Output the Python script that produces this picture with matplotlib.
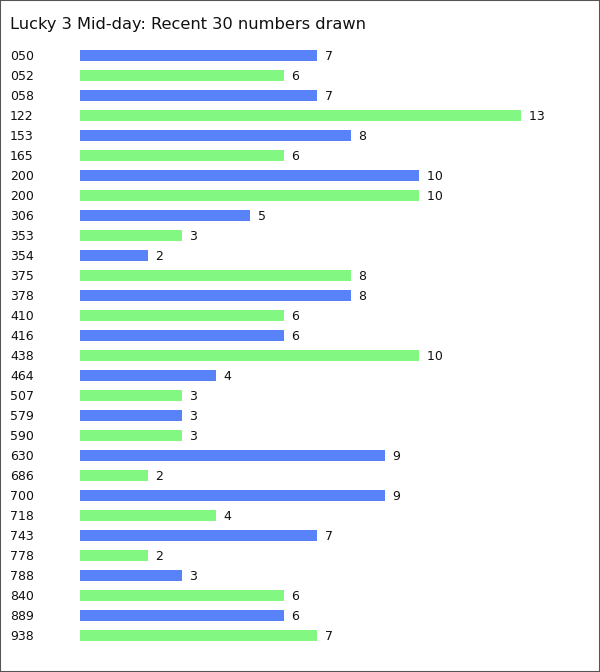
import matplotlib
matplotlib.use("Agg")
import matplotlib.pyplot as plt
from matplotlib.patches import Rectangle
from matplotlib.transforms import blended_transform_factory

numbers = ["050", "052", "058", "122", "153", "165", "200", "200", "306", "353",
           "354", "375", "378", "410", "416", "438", "464", "507", "579", "590",
           "630", "686", "700", "718", "743", "778", "788", "840", "889", "938"]
counts = [7, 6, 7, 13, 8, 6, 10, 10, 5, 3,
          2, 8, 8, 6, 6, 10, 4, 3, 3, 3,
          9, 2, 9, 4, 7, 2, 3, 6, 6, 7]
title = "Lucky 3 Mid-day: Recent 30 numbers drawn"

W, H = 600, 672
fig = plt.figure(figsize=(W / 100, H / 100), dpi=100)
fig.patch.set_facecolor("white")

# axes: x 0..13 -> px 80..521 ; rows centered at 55 + 20*i
ax = fig.add_axes([80 / W, 1 - 645 / H, 441 / W, 600 / H])
ax.set_xlim(0, 13)
ax.set_ylim(len(numbers) - 0.5, -0.5)
ax.axis("off")

colors = ["#5882f8" if i % 2 == 0 else "#82f882" for i in range(len(numbers))]
ypos = list(range(len(numbers)))
ax.barh(ypos, counts, height=0.55, color=colors, edgecolor="none")

trans = blended_transform_factory(fig.transFigure, ax.transData)
for i, (lab, v) in enumerate(zip(numbers, counts)):
    ax.text(v, i, "  " + str(v), va="center_baseline", ha="left", fontsize=9,
            color="#111111", clip_on=False)
    ax.text(10 / W, i, lab, transform=trans, va="center_baseline", ha="left",
            fontsize=9, color="#111111", clip_on=False)

fig.text(10 / W, 1 - 24 / H, title, fontsize=11.7, va="center", ha="left", color="#111111")

fig.patches.append(Rectangle((0, 0), 1, 1, transform=fig.transFigure, fill=False,
                             edgecolor="#555555", linewidth=1.5))

fig.savefig("out.png", dpi=100, facecolor="white")
